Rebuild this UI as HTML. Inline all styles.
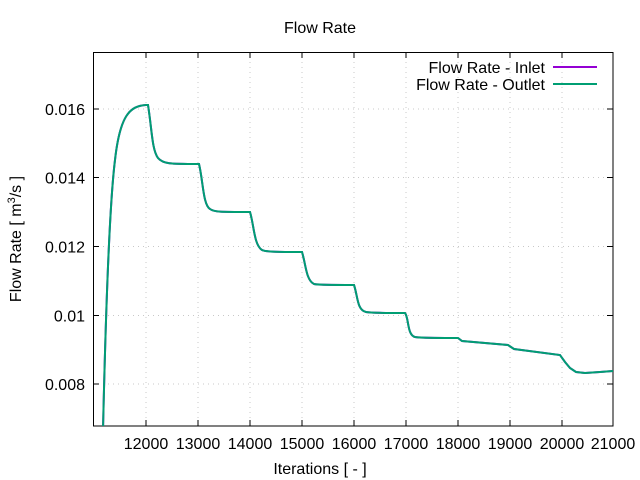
<!DOCTYPE html>
<html><head><meta charset="utf-8"><style>body{margin:0;background:#fff}svg{display:block}text{font-family:"Liberation Sans",sans-serif;font-size:16px;fill:#000}</style></head>
<body>
<svg width="640" height="480" viewBox="0 0 640 480">
<g stroke="#c8c8c8" stroke-width="1" stroke-dasharray="1,4">
<line x1="93" y1="109" x2="613" y2="109"/><line x1="93" y1="177.5" x2="613" y2="177.5"/>
<line x1="93" y1="246.5" x2="613" y2="246.5"/><line x1="93" y1="315.5" x2="613" y2="315.5"/>
<line x1="93" y1="384" x2="613" y2="384"/>
<line x1="146" y1="52" x2="146" y2="426"/><line x1="198" y1="52" x2="198" y2="426"/>
<line x1="250" y1="52" x2="250" y2="426"/><line x1="302" y1="52" x2="302" y2="426"/>
<line x1="354" y1="52" x2="354" y2="426"/><line x1="406" y1="52" x2="406" y2="426"/>
<line x1="458" y1="52" x2="458" y2="426"/><line x1="510" y1="52" x2="510" y2="426"/>
<line x1="562" y1="52" x2="562" y2="426"/>
</g>
<g stroke="#000" stroke-width="1">
<path d="M93,109h6M93,177.5h6M93,246.5h6M93,315.5h6M93,384h6M613,109h-6M613,177.5h-6M613,246.5h-6M613,315.5h-6M613,384h-6"/>
<path d="M146,426v-6M198,426v-6M250,426v-6M302,426v-6M354,426v-6M406,426v-6M458,426v-6M510,426v-6M562,426v-6M146,52v6M198,52v6M250,52v6M302,52v6M354,52v6M406,52v6M458,52v6M510,52v6M562,52v6"/>
<rect x="93.5" y="52.5" width="519.5" height="373.5" fill="none"/>
</g>
<g text-anchor="end">
<text x="85" y="115">0.016</text><text x="85" y="183.5">0.014</text><text x="85" y="252.5">0.012</text><text x="85" y="321.5">0.01</text><text x="85" y="390">0.008</text>
</g>
<g text-anchor="middle">
<text x="146" y="449">12000</text><text x="198" y="449">13000</text><text x="250" y="449">14000</text><text x="302" y="449">15000</text><text x="354" y="449">16000</text><text x="406" y="449">17000</text><text x="458" y="449">18000</text><text x="510" y="449">19000</text><text x="562" y="449">20000</text><text x="613" y="449">21000</text>
<text x="320" y="33">Flow Rate</text>
<text x="320" y="474">Iterations [ - ]</text>
<text transform="translate(21,239) rotate(-90)">Flow Rate [ m<tspan font-size="11" dy="-6">3</tspan><tspan dy="6">/s ]</tspan></text>
</g>
<g text-anchor="end"><text x="545" y="73">Flow Rate - Inlet</text><text x="545" y="90">Flow Rate - Outlet</text></g>
<line x1="553" y1="67" x2="597" y2="67" stroke="#9400d3" stroke-width="2"/>
<line x1="553" y1="84" x2="597" y2="84" stroke="#009e73" stroke-width="2"/>
<defs><clipPath id="c"><rect x="93" y="52" width="520" height="374"/></clipPath></defs>
<g clip-path="url(#c)" fill="none" stroke-width="2">
<path stroke="#9400d3" d="M103,430 C106,300 110,200 115,160 C120,115 130,106 146,105 L148,105 C152,130 152,150 158,158 C163,164 170,164 198,164 L199,164 C203,180 203,205 210,209 C214,212 220,212 250,212 C254,225 254,245 262,250 C266,252 280,252 302,252 C306,265 306,280 314,284 C318,285 330,285 354,285 C358,297 357,310 366,312 C370,313 390,313 405,313 C409,318 407,335 415,337 C420,338 440,338 458,338 L462,341 L508,345 L514,349 L560,355 L565,362 L570,368 L576,372 L585,373 L600,372 L613,371"/>
<path stroke="#009e73" d="M103,430 C106,300 110,200 115,160 C120,115 130,106 146,105 L148,105 C152,130 152,150 158,158 C163,164 170,164 198,164 L199,164 C203,180 203,205 210,209 C214,212 220,212 250,212 C254,225 254,245 262,250 C266,252 280,252 302,252 C306,265 306,280 314,284 C318,285 330,285 354,285 C358,297 357,310 366,312 C370,313 390,313 405,313 C409,318 407,335 415,337 C420,338 440,338 458,338 L462,341 L508,345 L514,349 L560,355 L565,362 L570,368 L576,372 L585,373 L600,372 L613,371"/>
</g>
</svg>
</body></html>
